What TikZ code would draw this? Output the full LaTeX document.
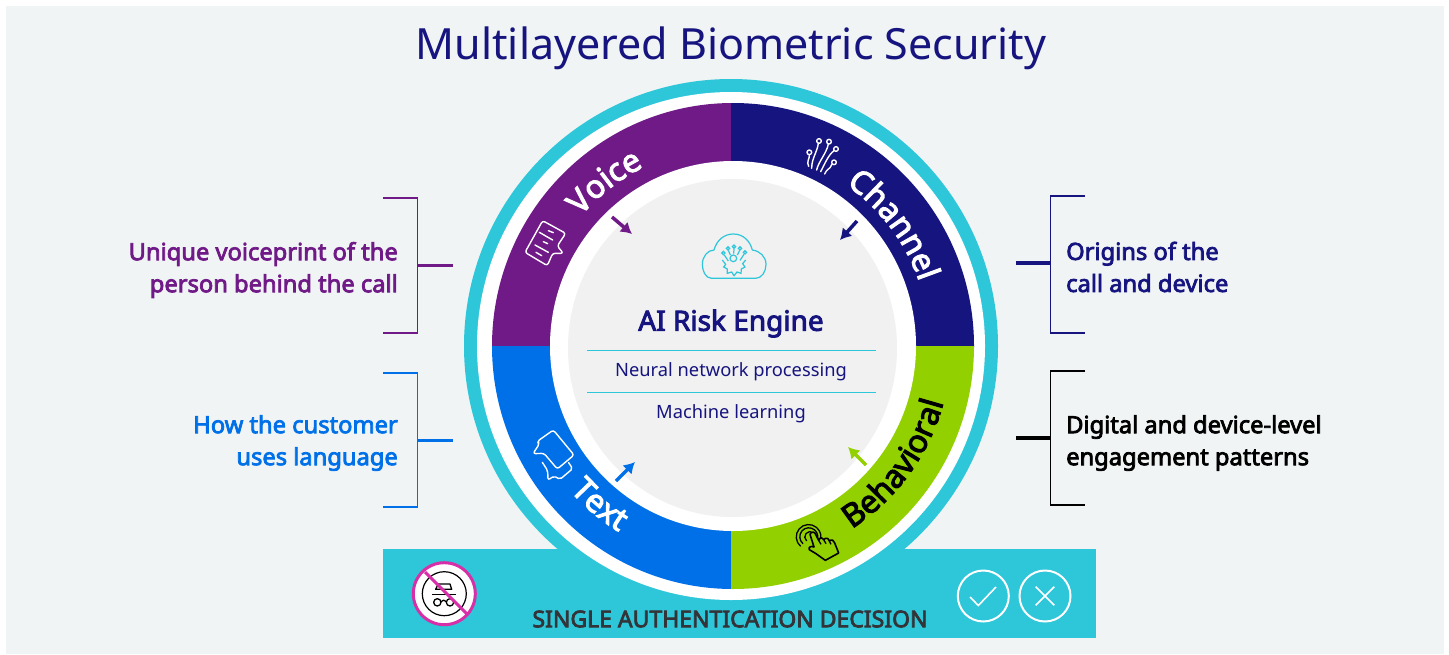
\documentclass[tikz,border=0pt]{standalone}
\usepackage{fontspec}
\setmainfont{Noto Sans}[AutoFakeBold=3.2]
\usepackage{xcolor}
\usepackage{tikz}
\usetikzlibrary{arrows.meta, calc, decorations.text}

\definecolor{pagegrey}{HTML}{F0F4F5}
\definecolor{coregrey}{HTML}{F1F1F2}
\definecolor{ringteal}{HTML}{2EC6D9}
\definecolor{voicepurple}{HTML}{701A87}
\definecolor{channelnavy}{HTML}{16147E}
\definecolor{textblue}{HTML}{0070E8}
\definecolor{behavegreen}{HTML}{92D000}
\definecolor{decisiongrey}{HTML}{333338}
\definecolor{nopink}{HTML}{D62FA8}

\newcommand{\whitering}{\color{white}\bfseries\fontsize{32}{32}\selectfont}
\newcommand{\blackring}{\color{black}\bfseries\fontsize{32}{32}\selectfont}

\tikzset{
    bracketline/.style={line width=1.3pt},
    stubline/.style={line width=3.5pt},
    feedarrow/.style={line width=3.5pt, -{Latex[length=11pt,width=13pt]}},
    sidelabel/.style={font=\bfseries\fontsize{23.7}{32}\selectfont, inner sep=0pt},
    coreline/.style={ringteal, line width=1pt},
    corelabel/.style={channelnavy, font=\fontsize{18.3}{18.3}\selectfont, inner sep=0pt},
    iconline/.style={line width=1.4pt, line join=round, line cap=round},
}

\begin{document}
\begin{tikzpicture}[x=1pt, y=-1pt]
    \useasboundingbox (0,0) rectangle (1449,654);
    \fill[pagegrey] (6,6) rectangle (1444,654);

    \node[channelnavy, font=\fontsize{43}{43}\selectfont, inner sep=0pt] (title) at (731,48) {Multilayered Biometric Security};

    \coordinate (hub) at (733,346);
    \coordinate (split) at (731,346);
    \fill[ringteal] (731,346) circle (267);
    \fill[ringteal] (383,549) rectangle (1096,638);
    \fill[white] (731,346) circle (254);

    \begin{scope}
        \clip (480,90) rectangle (split);
        \fill[voicepurple] (hub) ellipse [x radius=241, y radius=243];
    \end{scope}
    \begin{scope}
        \clip (split) rectangle (990,90);
        \fill[channelnavy] (hub) ellipse [x radius=241, y radius=243];
    \end{scope}
    \begin{scope}
        \clip (480,600) rectangle (split);
        \fill[textblue] (hub) ellipse [x radius=241, y radius=243];
    \end{scope}
    \begin{scope}
        \clip (split) rectangle (990,600);
        \fill[behavegreen] (hub) ellipse [x radius=241, y radius=243];
    \end{scope}
    \fill[white] (hub) ellipse [x radius=183, y radius=185];
    \fill[coregrey] (732.5,348) ellipse [x radius=164.5, y radius=169];

    \path[postaction={decorate}, decoration={text along path, text align=center, text={|\whitering|Voice}}]
        ($(hub)+(-156:200)$) arc (-156:-100:200);
    \path[postaction={decorate}, decoration={text along path, text align=center, text={|\whitering|Channel}}]
        ($(hub)+(-68:197)$) arc (-68:-6:197);
    \path[postaction={decorate}, decoration={text along path, text align=center, text={|\whitering|Text}}]
        ($(hub)+(-200:218)$) arc (-200:-260:218);
    \path[postaction={decorate}, decoration={text along path, text align=center, text={|\blackring|Behavioral}}]
        ($(hub)+(70:218)$) arc (70:2:218);

    \coordinate (voicefrom) at (612,217);
    \coordinate (voiceto) at (632,234);
    \coordinate (channelfrom) at (857,221);
    \coordinate (channelto) at (840,240);
    \coordinate (textfrom) at (616,481);
    \coordinate (textto) at (635,462);
    \coordinate (behavefrom) at (866,465);
    \coordinate (behaveto) at (848,447);
    \draw[feedarrow, voicepurple] (voicefrom) -- (voiceto);
    \draw[feedarrow, channelnavy] (channelfrom) -- (channelto);
    \draw[feedarrow, textblue] (textfrom) -- (textto);
    \draw[feedarrow, behavegreen] (behavefrom) -- (behaveto);

    \node[channelnavy, font=\bfseries\fontsize{28}{28}\selectfont, inner sep=0pt] (engine) at (731,323.5) {AI Risk Engine};
    \node[corelabel] (neural) at (731,372) {Neural network processing};
    \node[corelabel] (machine) at (731,414) {Machine learning};
    \coordinate (ruleaw) at (587,350.5);
    \coordinate (ruleae) at (876,350.5);
    \coordinate (rulebw) at (587,392.5);
    \coordinate (rulebe) at (876,392.5);
    \draw[coreline] (ruleaw) -- (ruleae);
    \draw[coreline] (rulebw) -- (rulebe);

    % cloud
    \begin{scope}[shift={(695,225)}, scale=1/3, ringteal, line width=1.2pt]
        \draw[line join=round] (50,160) .. controls (30,160) and (22,135) .. (22,118) .. controls (22,95) and (38,75) .. (57,75)
            .. controls (65,45) and (88,27) .. (115,27) .. controls (145,27) and (165,48) .. (172,75)
            .. controls (195,78) and (213,95) .. (213,118) .. controls (213,140) and (200,160) .. (182,160) -- cycle;
        \draw (115,100) circle (10);
        \draw (82,105) -- (92,118) -- (86,126) -- (97,132) -- (97,145) -- (110,141) -- (117,152) -- (126,141) -- (138,145) -- (139,132) -- (150,126) -- (143,116) -- (152,105);
        \draw (85,84) circle (5) (99,70) circle (5) (117,65) circle (5) (135,70) circle (5) (150,82) circle (5);
        \draw (88,90) -- (100,108) (100,76) -- (106,90) (117,71) -- (116,86) (134,76) -- (127,90) (147,88) -- (135,106);
    \end{scope}

    % speech note
    \begin{scope}[shift={(480,90)}, scale=1/3, white, iconline]
        \draw[rounded corners=2.5pt] (188,392) -- (257,430) -- (232,468) -- (250,490) -- (218,490) -- (202,527) -- (135,487) -- cycle;
        \draw (205,422) -- (220,428) (178,427) -- (218,450) (190,455) -- (203,461) (165,465) -- (205,487) (168,487) -- (185,497);
    \end{scope}

    % circuit
    \begin{scope}[shift={(730,90)}, scale=1/3, white, iconline]
        \draw (267,153) circle (7) (297,155) circle (7) (318,177) circle (7) (312,217) circle (7) (238,187) circle (7);
        \draw (265,160) .. controls (262,185) and (245,205) .. (245,235);
        \draw (295,162) .. controls (290,190) and (265,215) .. (260,240);
        \draw (312,182) .. controls (295,195) and (285,220) .. (272,245);
        \draw (306,222) .. controls (300,240) and (290,235) .. (284,252);
        \draw (238,194) .. controls (240,205) and (228,215) .. (236,229);
    \end{scope}

    % two bubbles
    \begin{scope}[shift={(380,420)}, scale=1/3, white, iconline]
        \draw[rounded corners=2.5pt] (520,30) -- (582,105) -- (532,147) -- (492,100) -- (459,101) -- (478,72) -- (472,64) -- cycle;
        \draw[rounded corners=2pt] (487,127) -- (503,152) -- (504,180) -- (522,168) -- (540,178) -- (578,146) -- (566,128);
    \end{scope}

    % pointing hand
    \begin{scope}[shift={(792,517)}, scale=1/3, black, line width=1.3pt, line join=round]
        \draw (44,72) arc (130:390:16);
        \draw (33,80) arc (130:395:27);
        \draw (26,88) arc (130:385:37) ;
        \draw[line width=1.6pt, fill=behavegreen] (54,52) .. controls (58,42) and (70,44) .. (72,54) -- (80,70) .. controls (85,58) and (93,62) .. (95,68)
            .. controls (102,60) and (110,64) .. (112,72) .. controls (118,66) and (128,70) .. (128,78) -- (140,108) -- (100,130)
            -- (72,110) -- (52,98) .. controls (48,90) and (58,86) .. (66,90) -- cycle;
        \draw (80,70) -- (87,82) (95,68) -- (102,80) (112,72) -- (117,82);
    \end{scope}

    % side brackets
    \coordinate (voicetop) at (383,198);
    \coordinate (voicetc) at (417.5,198);
    \coordinate (voicebc) at (417.5,333);
    \coordinate (voicebot) at (383,333);
    \coordinate (voicemid) at (417.5,265.7);
    \coordinate (voicestub) at (453,265.7);
    \draw[bracketline, voicepurple] (voicetop) -- (voicetc) -- (voicebc) -- (voicebot);
    \draw[stubline, voicepurple] (voicemid) -- (voicestub);
    \node[sidelabel, voicepurple, anchor=east, align=right] (voicenote) at (398,270) {Unique voiceprint of the\\person behind the call};

    \coordinate (texttop) at (383,373);
    \coordinate (texttc) at (417.5,373);
    \coordinate (textbc) at (417.5,507);
    \coordinate (textbot) at (383,507);
    \coordinate (textmid) at (417.5,440.5);
    \coordinate (textstub) at (453,440.5);
    \draw[bracketline, textblue] (texttop) -- (texttc) -- (textbc) -- (textbot);
    \draw[stubline, textblue] (textmid) -- (textstub);
    \node[sidelabel, textblue, anchor=east, align=right] (textnote) at (398,443) {How the customer\\uses language};

    \coordinate (channeltop) at (1085,196);
    \coordinate (channeltc) at (1050.7,196);
    \coordinate (channelbc) at (1050.7,333);
    \coordinate (channelbot) at (1085,333);
    \coordinate (channelmid) at (1050.7,263);
    \coordinate (channelstub) at (1016,263);
    \draw[bracketline, channelnavy] (channeltop) -- (channeltc) -- (channelbc) -- (channelbot);
    \draw[stubline, channelnavy] (channelmid) -- (channelstub);
    \node[sidelabel, channelnavy, anchor=west, align=left] (channelnote) at (1066,267) {Origins of the\\call and device};

    \coordinate (behavetop) at (1085,371);
    \coordinate (behavetc) at (1050.7,371);
    \coordinate (behavebc) at (1050.7,505);
    \coordinate (behavebot) at (1085,505);
    \coordinate (behavemid) at (1050.7,438);
    \coordinate (behavestub) at (1016,438);
    \draw[bracketline, black] (behavetop) -- (behavetc) -- (behavebc) -- (behavebot);
    \draw[stubline, black] (behavemid) -- (behavestub);
    \node[sidelabel, black, anchor=west, align=left] (behavenote) at (1066,443) {Digital and device-level\\engagement patterns};

    % decision bar
    \node[decisiongrey, font=\bfseries\fontsize{23}{23}\selectfont, inner sep=0pt] (decision) at (730,619) {SINGLE AUTHENTICATION DECISION};
    \node[circle, draw=white, line width=2pt, minimum size=51pt, inner sep=0pt] (okmark) at (983.3,596) {};
    \node[circle, draw=white, line width=2pt, minimum size=51pt, inner sep=0pt] (nomark) at (1045,596) {};
    \draw[white, line width=1.6pt] (970,597) -- (978.3,605.5) -- (996,587);
    \draw[white, line width=1.6pt] (1035.7,586.7) -- (1054.3,605.3) (1035.7,605.3) -- (1054.3,586.7);

    \node[circle, draw=nopink, fill=white, line width=3pt, minimum size=62pt, inner sep=0pt] (nobots) at (444.3,593.7) {};
    \draw[black, line width=1.2pt] (nobots.center) circle (22);
    \begin{scope}[shift={(405,555)}, scale=1/3, black, line width=1.3pt, line join=round]
        \draw (100,87) -- (135,87) -- (140,103) -- (92,103) -- cycle;
        \draw[line width=1.5pt] (82,118) -- (152,118);
        \draw (97,142) circle (11) (135,142) circle (11);
        \draw (108,140) .. controls (112,134) and (120,134) .. (124,140);
    \end{scope}
    \draw[nopink, line width=3pt] (425,572) -- (468,615);
\end{tikzpicture}
\end{document}
